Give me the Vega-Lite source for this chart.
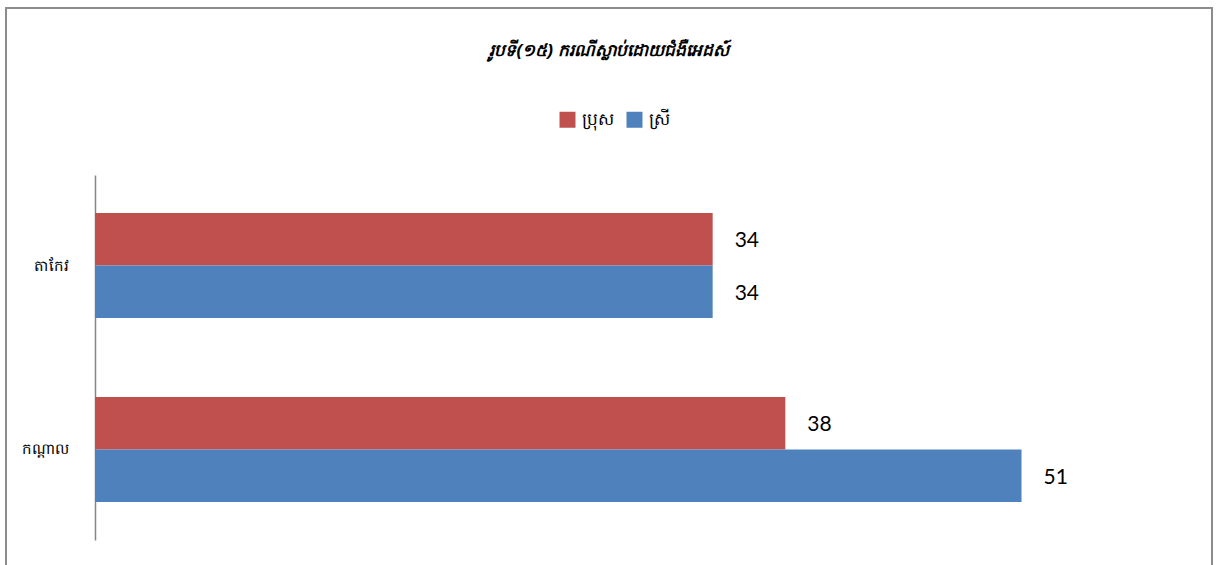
{
  "$schema": "https://vega.github.io/schema/vega-lite/v6.json",
  "autosize": {"type": "none"},
  "width": 1206,
  "height": 560,
  "padding": {"left": 6, "top": 8, "right": 4, "bottom": -3},
  "background": "white",
  "view": {"stroke": "#8c8c8c", "strokeWidth": 2},
  "title": {
    "text": "រូបទី(១៥) ករណីស្លាប់ដោយជំងឺអេដស៍",
    "fontSize": 17,
    "fontWeight": "bold",
    "fontStyle": "italic",
    "color": "#000000",
    "anchor": "middle",
    "offset": 0,
    "baseline": "middle",
    "dy": 60
  },
  "data": {
    "values": [
      {"region": "តាកែវ", "sex": "ប្រុស", "value": 34},
      {"region": "តាកែវ", "sex": "ស្រី", "value": 34},
      {"region": "កណ្តាល", "sex": "ប្រុស", "value": 38},
      {"region": "កណ្តាល", "sex": "ស្រី", "value": 51}
    ]
  },
  "encoding": {
    "y": {
      "field": "region",
      "type": "nominal",
      "sort": ["តាកែវ", "កណ្តាល"],
      "scale": {"range": [167, 532], "paddingInner": 0.43, "paddingOuter": 0.207},
      "axis": {
        "title": null,
        "offset": -89,
        "ticks": false,
        "labelPadding": 27,
        "labelFontSize": 15,
        "labelColor": "#000000",
        "domainColor": "#868686",
        "domainWidth": 1.5
      }
    },
    "yOffset": {
      "field": "sex",
      "type": "nominal",
      "sort": ["ប្រុស", "ស្រី"]
    },
    "x": {
      "field": "value",
      "type": "quantitative",
      "scale": {"domain": [0, 60], "range": [89, 1179]},
      "axis": null
    }
  },
  "layer": [
    {
      "mark": {"type": "bar"},
      "encoding": {
        "color": {
          "field": "sex",
          "type": "nominal",
          "sort": ["ប្រុស", "ស្រី"],
          "scale": {"domain": ["ប្រុស", "ស្រី"], "range": ["#C0504D", "#4F81BD"]},
          "legend": {
            "title": null,
            "orient": "none",
            "legendX": 553,
            "legendY": 103,
            "direction": "horizontal",
            "symbolType": "square",
            "symbolSize": 256,
            "symbolStrokeWidth": 0,
            "labelFontSize": 17,
            "labelColor": "#000000",
            "columnPadding": 12,
            "labelOffset": 6
          }
        }
      }
    },
    {
      "mark": {"type": "text", "align": "left", "baseline": "middle", "dx": 22, "dy": 2, "fontSize": 21, "font": "Lato", "color": "#000000"},
      "encoding": {
        "text": {"field": "value", "type": "quantitative"}
      }
    }
  ]
}
